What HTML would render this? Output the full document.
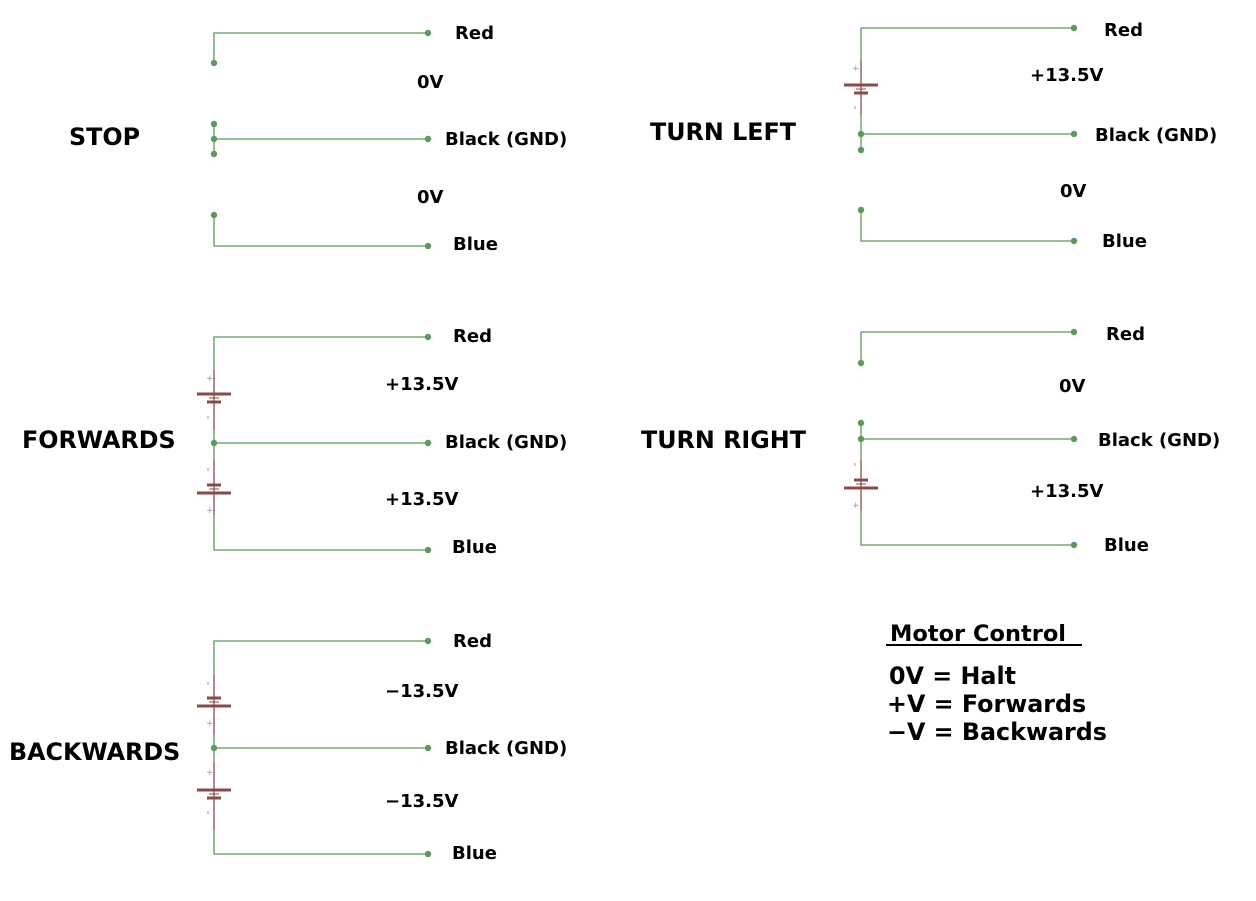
<!DOCTYPE html>
<html><head><style>
html,body{margin:0;padding:0;background:#fff;}
svg text{font-family:"DejaVu Sans","Liberation Sans",sans-serif;font-weight:bold;fill:#000;}
</style></head><body>
<svg width="1256" height="896" viewBox="0 0 1256 896" xmlns="http://www.w3.org/2000/svg">
<defs>
<g id="batUp">
<line x1="-17" y1="0" x2="17" y2="0" stroke="#8b4a4a" stroke-width="3"/>
<line x1="-5" y1="4" x2="5" y2="4" stroke="#8b4a4a" stroke-width="1"/>
<line x1="-7" y1="8" x2="7" y2="8" stroke="#8b4a4a" stroke-width="3"/>
</g>
<g id="batDn">
<line x1="-7" y1="0" x2="7" y2="0" stroke="#8b4a4a" stroke-width="3"/>
<line x1="-5" y1="4" x2="5" y2="4" stroke="#8b4a4a" stroke-width="1"/>
<line x1="-17" y1="8" x2="17" y2="8" stroke="#8b4a4a" stroke-width="3"/>
</g>
</defs>
<g stroke="#5a9a5a" stroke-width="1.3" fill="none">
<polyline points="214,63 214,33 428,33"/>
<polyline points="214,124 214,154"/><line x1="214" y1="139" x2="428" y2="139"/>
<polyline points="214,215 214,246 428,246"/>
<polyline points="214,370 214,337 428,337"/>
<line x1="214" y1="430" x2="214" y2="460"/>
<line x1="214" y1="443" x2="428" y2="443"/>
<polyline points="214,515 214,550 428,550"/>
<polyline points="214,675 214,641 428,641"/>
<line x1="214" y1="735" x2="214" y2="762"/>
<line x1="214" y1="748" x2="428" y2="748"/>
<polyline points="214,830 214,854 428,854"/>
<polyline points="861,60 861,28 1074,28"/>
<line x1="861" y1="115" x2="861" y2="150"/>
<line x1="861" y1="134" x2="1074" y2="134"/>
<polyline points="861,210 861,241 1074,241"/>
<polyline points="861,363 861,332 1074,332"/>
<line x1="861" y1="423" x2="861" y2="460"/>
<line x1="861" y1="439" x2="1074" y2="439"/>
<polyline points="861,510 861,545 1074,545"/>
</g>
<g stroke="#8b4a4a" stroke-width="1.3">
<line x1="214" y1="370" x2="214" y2="430"/>
<line x1="214" y1="460" x2="214" y2="515"/>
<line x1="214" y1="675" x2="214" y2="735"/>
<line x1="214" y1="762" x2="214" y2="830"/>
<line x1="861" y1="60" x2="861" y2="115"/>
<line x1="861" y1="460" x2="861" y2="510"/>
</g>
<use href="#batUp" x="214" y="394"/>
<use href="#batDn" x="214" y="485"/>
<use href="#batDn" x="214" y="698"/>
<use href="#batUp" x="214" y="790"/>
<use href="#batUp" x="861" y="85"/>
<use href="#batDn" x="861" y="480"/>
<g font-size="9">
<text x="206" y="381" style="font-weight:normal;fill:#999">+</text>
<text x="206" y="513" style="font-weight:normal;fill:#999">+</text>
<text x="206" y="726" style="font-weight:normal;fill:#999">+</text>
<text x="206" y="775" style="font-weight:normal;fill:#999">+</text>
<text x="852" y="71" style="font-weight:normal;fill:#999">+</text>
<text x="852" y="508" style="font-weight:normal;fill:#999">+</text>
</g>
<g stroke="#999" stroke-width="1">
<line x1="208" y1="416" x2="208" y2="419"/>
<line x1="208" y1="468" x2="208" y2="471"/>
<line x1="208" y1="682" x2="208" y2="685"/>
<line x1="208" y1="811" x2="208" y2="814"/>
<line x1="855" y1="106" x2="855" y2="109"/>
<line x1="855" y1="463" x2="855" y2="466"/>
</g>
<g fill="#5a9a5a">
<circle cx="214" cy="63" r="3.2"/><circle cx="428" cy="33" r="3.2"/>
<circle cx="214" cy="124" r="3.2"/><circle cx="214" cy="139" r="3.2"/><circle cx="214" cy="154" r="3.2"/><circle cx="428" cy="139" r="3.2"/>
<circle cx="214" cy="215" r="3.2"/><circle cx="428" cy="246" r="3.2"/>
<circle cx="428" cy="337" r="3.2"/><circle cx="214" cy="443" r="3.2"/><circle cx="428" cy="443" r="3.2"/><circle cx="428" cy="550" r="3.2"/>
<circle cx="428" cy="641" r="3.2"/><circle cx="214" cy="748" r="3.2"/><circle cx="428" cy="748" r="3.2"/><circle cx="428" cy="854" r="3.2"/>
<circle cx="1074" cy="28" r="3.2"/><circle cx="861" cy="134" r="3.2"/><circle cx="1074" cy="134" r="3.2"/><circle cx="861" cy="150" r="3.2"/><circle cx="861" cy="210" r="3.2"/><circle cx="1074" cy="241" r="3.2"/>
<circle cx="1074" cy="332" r="3.2"/><circle cx="861" cy="363" r="3.2"/><circle cx="861" cy="423" r="3.2"/><circle cx="861" cy="439" r="3.2"/><circle cx="1074" cy="439" r="3.2"/><circle cx="1074" cy="545" r="3.2"/>
</g>
<g font-size="18">
<text x="455" y="39">Red</text><text x="417" y="88">0V</text><text x="445" y="145">Black (GND)</text><text x="417" y="203">0V</text><text x="453" y="250">Blue</text>
<text x="453" y="342">Red</text><text x="385" y="390">+13.5V</text><text x="445" y="448">Black (GND)</text><text x="385" y="505">+13.5V</text><text x="452" y="553">Blue</text>
<text x="453" y="647">Red</text><text x="385" y="697">−13.5V</text><text x="445" y="754">Black (GND)</text><text x="385" y="807">−13.5V</text><text x="452" y="859">Blue</text>
<text x="1104" y="36">Red</text><text x="1030" y="81">+13.5V</text><text x="1095" y="141">Black (GND)</text><text x="1060" y="197">0V</text><text x="1102" y="247">Blue</text>
<text x="1106" y="340">Red</text><text x="1059" y="392">0V</text><text x="1098" y="446">Black (GND)</text><text x="1030" y="497">+13.5V</text><text x="1104" y="551">Blue</text>
</g>
<g font-size="23.8">
<text x="69" y="145">STOP</text>
<text x="22" y="448">FORWARDS</text>
<text x="9" y="760">BACKWARDS</text>
<text x="650" y="140">TURN LEFT</text>
<text x="641" y="448">TURN RIGHT</text>
</g>
<text x="890" y="641" font-size="22.5">Motor Control</text>
<line x1="886" y1="645" x2="1082" y2="645" stroke="#000" stroke-width="2"/>
<g font-size="23.8">
<text x="889" y="684">0V = Halt</text>
<text x="887" y="712">+V = Forwards</text>
<text x="887" y="740">−V = Backwards</text>
</g>
</svg>
</body></html>
